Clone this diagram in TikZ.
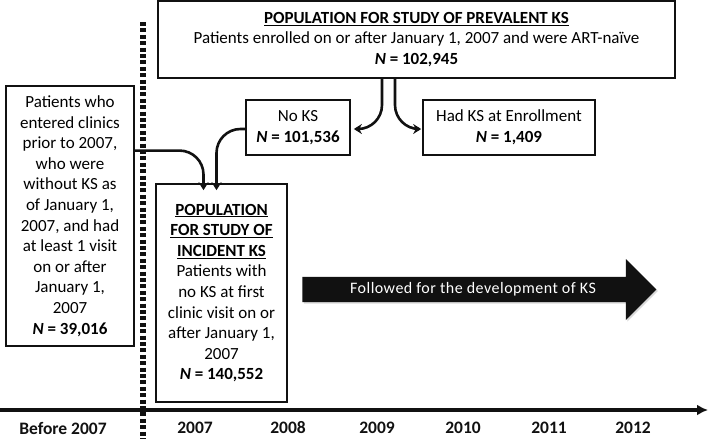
\documentclass[tikz,border=0pt]{standalone}
\usepackage{fontspec}
\setmainfont{Carlito}
\usepackage{tikz}
\usetikzlibrary{shapes,shapes.arrows,arrows.meta,positioning,calc,shadows}
\definecolor{ksInk}{HTML}{111111}
\tikzset{
    ksBox/.style={
        rectangle,
        draw=ksInk,
        line width=1.7pt,
        fill=white,
        align=center,
        inner sep=3pt,
        font=\fontsize{17}{20.6}\selectfont,
        drop shadow={opacity=0.25, shadow xshift=1.2pt, shadow yshift=-1.2pt}
    },
    ksYear/.style={font=\fontsize{17.5}{20}\selectfont\bfseries, text=ksInk},
    ksCurve/.style={-{Stealth[length=8pt,width=10pt]}, line width=2.6pt, draw=ksInk, rounded corners=24pt}
}
\newcommand{\ksN}[1]{\textbf{\textit{N} = #1}}
\begin{document}
\begin{tikzpicture}[x=1pt, y=-1pt]
\useasboundingbox (0,0) rectangle (709,439);

% study boxes
\node[ksBox, minimum width=517pt, minimum height=77pt] (prevBox) at (416.5,39.5)
    {\underline{\textbf{POPULATION FOR STUDY OF PREVALENT KS}}\\
     Patients enrolled on or after January 1, 2007 and were ART-na\"ive\\
     \ksN{102,945}};
\node[ksBox, minimum width=104pt, minimum height=55pt] (noKS) at (298,127.5)
    {No KS\\ \ksN{101,536}};
\node[ksBox, minimum width=172pt, minimum height=55pt] (hadKS) at (509,127.5)
    {Had KS at Enrollment\\ \ksN{1,409}};
\node[ksBox, minimum width=128pt, minimum height=260pt] (priorBox) at (70,216)
    {Patients who\\ entered clinics\\ prior to 2007,\\ who were\\ without KS as\\ of January 1,\\
     2007, and had\\ at least 1 visit\\ on or after\\ January 1,\\ 2007\\ \ksN{39,016}};
\node[ksBox, minimum width=131pt, minimum height=218pt] (incBox) at (221.5,293)
    {\underline{\textbf{POPULATION}}\\ \underline{\textbf{FOR STUDY OF}}\\ \underline{\textbf{INCIDENT KS}}\\
     Patients with\\ no KS at first\\ clinic visit on or\\ after January 1,\\ 2007\\ \ksN{140,552}};

% follow-up arrow
\node[single arrow, fill=ksInk, text=white, minimum height=354pt, minimum width=61pt,
      single arrow head extend=13pt, inner sep=2pt,
      font=\fontsize{16}{19}\selectfont\addfontfeature{LetterSpace=3},
      drop shadow={opacity=0.3, shadow xshift=1.5pt, shadow yshift=-1.5pt}] (followArrow) at (473,289.5)
    {Followed for the development of KS};

% curved connectors
\draw[ksCurve] ($(priorBox.north east)!0.25!(priorBox.south east)$) -| ([xshift=-18pt,yshift=-7pt]incBox.north);
\draw[ksCurve] ([yshift=-1.5pt]noKS.west) -| ([xshift=-5pt,yshift=-7pt]incBox.north);
\draw[ksCurve] ([xshift=-34.5pt]prevBox.south) |- ([xshift=3pt,yshift=-1.5pt]noKS.east);
\draw[ksCurve] ([xshift=-21.5pt]prevBox.south) |- ([xshift=-1pt,yshift=-1.5pt]hadKS.west);

% time line
\coordinate (axStart) at (0,410);
\coordinate (axEnd) at (708,410);
\draw[line width=3.4pt, draw=ksInk, -{Latex[length=11pt,width=11pt]}] (axStart) -- (axEnd);
\coordinate (cutTop) at (143,22);
\coordinate (cutBot) at (143,439);
\draw[line width=5.5pt, draw=ksInk, dash pattern=on 4pt off 2.4pt] (cutTop) -- (cutBot);

\foreach \yr/\xx in {Before 2007/63, 2007/195, 2008/288, 2009/377, 2010/463, 2011/549, 2012/633}
    \node[ksYear] (yr\xx) at (\xx,428) {\yr};
\end{tikzpicture}
\end{document}
